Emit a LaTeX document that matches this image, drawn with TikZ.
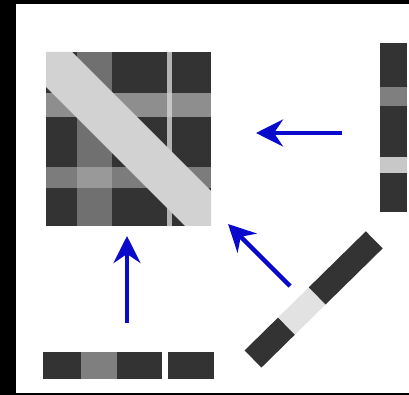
\documentclass[tikz,border=0pt]{standalone}
\usetikzlibrary{arrows.meta}
\definecolor{dk}{HTML}{333333}
\definecolor{gbar}{HTML}{7F7F7F}
\definecolor{lbar}{HTML}{C8C8C8}
\definecolor{lbarD}{HTML}{E2E2E2}
\definecolor{rowG}{HTML}{8E8E8E}
\definecolor{rowL}{HTML}{7C7C7C}
\definecolor{colG}{HTML}{707070}
\definecolor{colL}{HTML}{B4B4B4}
\definecolor{band}{HTML}{D2D2D2}
\definecolor{arrblue}{HTML}{0A0ACC}
\begin{document}
\begin{tikzpicture}[x=1pt,y=-1pt,
  arr/.style={draw=arrblue,line width=4.5pt,-{Stealth[length=27pt,width=27pt,inset=9pt]}}]
\useasboundingbox (0,0) rectangle (409,395);
\fill[black] (0,0) rectangle (409,395);
\fill[white] (16,4) rectangle (409,393);

% ---------- matrix ----------
\fill[dk] (46,52) rectangle (211,226);
\fill[rowG] (46,93) rectangle (211,117);
\fill[rowL] (46,167) rectangle (211,188);
\fill[colG] (77,52) rectangle (112,226);
\fill[colL] (167,52) rectangle (172,226);
\fill[gray!70] (77,93) rectangle (112,117);
\fill[gray!80] (77,167) rectangle (112,188);
\fill[gray!45] (167,93) rectangle (172,117);
\fill[gray!55] (167,167) rectangle (172,188);
\fill[band] (46,52) -- (72,52) -- (211,191) -- (211,226) -- (185,226) -- (46,87) -- cycle;
\node[inner sep=0pt,minimum width=165pt,minimum height=174pt] (mat) at (128.5,139) {};

% ---------- bottom bar ----------
\fill[dk] (43,352) rectangle (81,379);
\fill[gbar] (81,352) rectangle (117,379);
\fill[dk] (117,352) rectangle (162,379);
\fill[dk] (168,352) rectangle (214,379);
\node[inner sep=0pt,minimum width=171pt,minimum height=27pt] (bbar) at (128.5,365.5) {};

% ---------- right bar ----------
\fill[dk] (380,43) rectangle (407,87);
\fill[gbar] (380,87) rectangle (407,106);
\fill[dk] (380,106) rectangle (407,157);
\fill[lbar] (380,157) rectangle (407,173);
\fill[dk] (380,173) rectangle (407,212);
\node[inner sep=0pt,minimum width=27pt,minimum height=169pt] (rbar) at (393.5,127.5) {};

% ---------- diagonal bar ----------
\begin{scope}[shift={(253,359)},rotate=44.5]
  \fill[dk] (0,-12) rectangle (47,12);
  \fill[lbarD] (47,-12) rectangle (90,12);
  \fill[dk] (90,-12) rectangle (170,12);
  \node[inner sep=0pt,minimum width=170pt,minimum height=24pt] (dbar) at (85,0) {};
\end{scope}

% ---------- arrows ----------
\coordinate (rs) at (342,133);
\coordinate (rt) at (256,133);
\coordinate (bs) at (127,323);
\coordinate (bt) at (127,236);
\coordinate (ds) at (290,286);
\coordinate (dt) at (228,224);
\draw[arr] (rs) -- (rt);
\draw[arr] (bs) -- (bt);
\draw[arr] (ds) -- (dt);
\end{tikzpicture}
\end{document}
